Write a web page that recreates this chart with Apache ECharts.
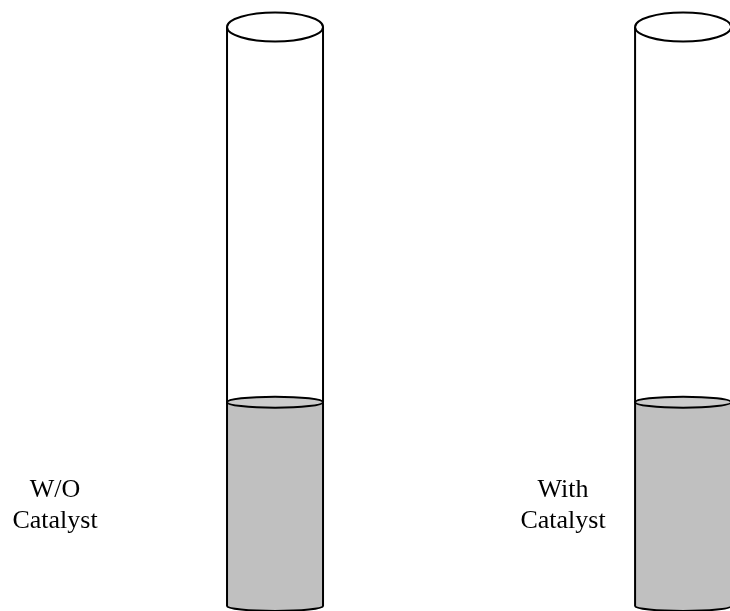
<!DOCTYPE html>
<html>
<head>
<meta charset="utf-8">
<style>html,body{margin:0;padding:0;background:#fff}#c{width:730px;height:611px}</style>
<script src="https://cdn.jsdelivr.net/npm/echarts@6/dist/echarts.min.js"></script>
</head>
<body>
<div id="c"></div>
<script>
const tubes = ['W/O\nCatalyst', 'With\nCatalyst'];
const liquidLevels = [35.2, 35.2];
const tubeFullHeight = [100, 100];

const chart = echarts.init(document.getElementById('c'), null, {renderer: 'canvas'});
const STROKE = {stroke: '#000', lineWidth: 2};
const labelShift = [-220, -120];

function ellipse(cx, cy, rx, ry, fill) {
  return {type: 'ellipse', shape: {cx, cy, rx, ry}, style: {fill, ...STROKE}};
}

function renderTube(params, api) {
  const i = api.value(0);
  const cx = api.coord([i, 0])[0];
  const base = api.coord([i, 0])[1];
  const top = api.coord([i, api.value(1)])[1];
  const level = api.coord([i, api.value(2)])[1];
  const rx = 48, ryTop = 14.5, ryLiquid = 5.5, ryBase = 5;
  const k = 0.5523;
  const l = cx - rx, r = cx + rx;
  const body = [
    'M', l, level, 'L', l, base,
    'C', l, base + k * ryBase, cx - k * rx, base + ryBase, cx, base + ryBase,
    'C', cx + k * rx, base + ryBase, r, base + k * ryBase, r, base,
    'L', r, level, 'Z'
  ].join(' ');
  return {
    type: 'group',
    children: [
      {type: 'line', shape: {x1: l, y1: top, x2: l, y2: level}, style: STROKE},
      {type: 'line', shape: {x1: r, y1: top, x2: r, y2: level}, style: STROKE},
      {type: 'path', shape: {pathData: body}, style: {fill: '#c0c0c0', ...STROKE}},
      ellipse(cx, level, rx, ryLiquid, '#cccccc'),
      ellipse(cx, top, rx, ryTop, '#ffffff'),
      {type: 'text', x: cx + labelShift[i], y: 506, style: {
        text: tubes[i], fill: '#000', align: 'center', verticalAlign: 'middle',
        font: '26px "Liberation Serif"', lineHeight: 31
      }}
    ]
  };
}

chart.setOption({
  animation: false,
  backgroundColor: '#fff',
  grid: {left: 0, top: 27, width: 730, height: 579},
  xAxis: {type: 'value', min: -0.674, max: 1.115, show: false},
  yAxis: {type: 'value', min: 0, max: 100, show: false},
  series: [{
    type: 'custom',
    clip: false,
    renderItem: renderTube,
    encode: {x: 0, y: 1},
    data: tubes.map((t, i) => [i, tubeFullHeight[i], liquidLevels[i]])
  }]
});
</script>
</body>
</html>
